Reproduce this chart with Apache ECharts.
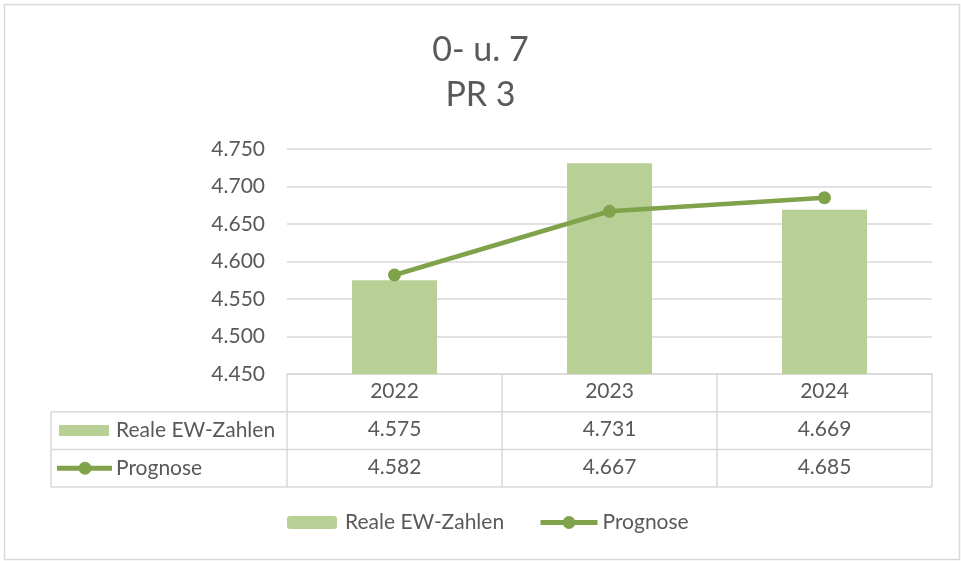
<!DOCTYPE html>
<html><head><meta charset="utf-8">
<script src="https://cdn.jsdelivr.net/npm/echarts@6/dist/echarts.min.js"></script>
<style>html,body{margin:0;padding:0;background:#fff}#c{width:961px;height:561px}</style>
</head><body><div id="c"></div>
<script>
var categories = ['2022', '2023', '2024'];
var realeValues = [4575, 4731, 4669];
var prognoseValues = [4582, 4667, 4685];
var seriesNames = ['Reale EW-Zahlen', 'Prognose'];
var titleLines = ['0- u. 7', 'PR 3'];

function fmt(v) {
  var t = Math.floor(v / 1000), r = v % 1000;
  return t + '.' + (r < 10 ? '00' : r < 100 ? '0' : '') + r;
}

var FONT = 'Lato';
var FS = 21;
var TXT = '#595959';
var GRID = '#d9d9d9';
var BAR = '#b8cf95';
var LINE = '#7fa24a';
var L = 287, R = 932, TOP = 149, BOT = 374, ROW = 37.7, TL = 51;

var chart = echarts.init(document.getElementById('c'), null, {renderer: 'canvas'});
var axisCommon = function (data, offset) {
  return {
    type: 'category', data: data, position: 'bottom', offset: offset, gridIndex: 0,
    axisLine: {show: offset === 0, lineStyle: {color: GRID, width: 1.5}},
    axisTick: {show: offset === 0, length: ROW * 3, lineStyle: {color: GRID, width: 1.5}},
    axisLabel: {margin: 7, fontFamily: FONT, fontSize: FS, color: TXT},
    splitLine: {show: false}
  };
};
chart.setOption({
  animation: false,
  backgroundColor: '#fff',
  textStyle: {fontFamily: FONT},
  title: {
    text: titleLines.join('\n'), left: 'center', top: 23,
    textStyle: {fontFamily: FONT, fontSize: 34, fontWeight: 'normal', color: TXT, lineHeight: 45}
  },
  grid: {left: L, right: 961 - R, top: TOP, bottom: 561 - BOT, containLabel: false},
  legend: [{
    data: [seriesNames[0]], left: 287, top: 512, padding: 0, itemWidth: 50, itemHeight: 13, itemGap: 0,
    textStyle: {fontFamily: FONT, fontSize: FS, color: TXT, padding: [0, 0, 0, 3]}
  }, {
    data: [seriesNames[1]], left: 538, top: 512, padding: 0, itemWidth: 57, itemHeight: 16, itemGap: 0,
    lineStyle: {width: 5},
    textStyle: {fontFamily: FONT, fontSize: FS, color: TXT}
  }],
  xAxis: [
    axisCommon(categories, 0),
    axisCommon(realeValues.map(fmt), ROW),
    axisCommon(prognoseValues.map(fmt), ROW * 2)
  ],
  yAxis: {
    type: 'value', min: 4450, max: 4750, interval: 50,
    axisLine: {show: false}, axisTick: {show: false},
    axisLabel: {margin: 22, fontFamily: FONT, fontSize: FS, color: TXT, formatter: fmt},
    splitLine: {lineStyle: {color: GRID, width: 1.5}}
  },
  series: [{
    name: seriesNames[0], type: 'bar', data: realeValues, barWidth: '39.5%',
    itemStyle: {color: BAR}, xAxisIndex: 0
  }, {
    name: seriesNames[1], type: 'line', data: prognoseValues, xAxisIndex: 0,
    symbol: 'circle', symbolSize: 13, itemStyle: {color: LINE},
    lineStyle: {color: LINE, width: 4.5}, z: 5
  }],
  graphic: [
    {type: 'rect', shape: {x: 4.5, y: 4.5, width: 955, height: 555}, style: {fill: 'none', stroke: GRID, lineWidth: 1.5}, silent: true},
    {type: 'line', shape: {x1: TL, y1: BOT + ROW, x2: R, y2: BOT + ROW}, style: {stroke: GRID, lineWidth: 1.5}},
    {type: 'line', shape: {x1: TL, y1: BOT + ROW * 2, x2: R, y2: BOT + ROW * 2}, style: {stroke: GRID, lineWidth: 1.5}},
    {type: 'line', shape: {x1: TL, y1: BOT + ROW * 3, x2: R, y2: BOT + ROW * 3}, style: {stroke: GRID, lineWidth: 1.5}},
    {type: 'line', shape: {x1: TL, y1: BOT + ROW, x2: TL, y2: BOT + ROW * 3}, style: {stroke: GRID, lineWidth: 1.5}},
    {type: 'rect', shape: {x: 59, y: BOT + ROW * 1.5 - 5.5, width: 50, height: 11}, style: {fill: BAR}},
    {type: 'text', x: 116, y: BOT + ROW * 1.5, style: {text: seriesNames[0], fontFamily: FONT, fontSize: FS, fill: TXT, verticalAlign: 'middle'}},
    {type: 'line', shape: {x1: 57, y1: BOT + ROW * 2.5, x2: 112, y2: BOT + ROW * 2.5}, style: {stroke: LINE, lineWidth: 5}},
    {type: 'circle', shape: {cx: 85, cy: BOT + ROW * 2.5, r: 6.5}, style: {fill: LINE}},
    {type: 'text', x: 116, y: BOT + ROW * 2.5, style: {text: seriesNames[1], fontFamily: FONT, fontSize: FS, fill: TXT, verticalAlign: 'middle'}}
  ]
});
</script></body></html>
